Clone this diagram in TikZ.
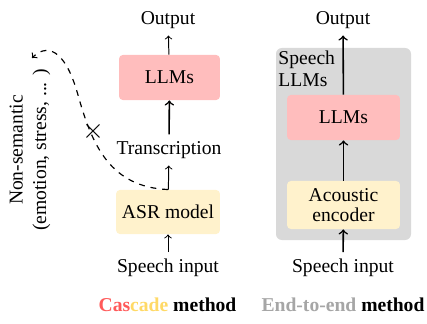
\documentclass[tikz,border=0pt]{standalone}
\usepackage{fontspec}
\setmainfont{Liberation Serif}[BoldFont={Liberation Serif Bold}]
\usetikzlibrary{arrows,positioning}
\definecolor{llmpink}{HTML}{FFBDBD}
\definecolor{asryellow}{HTML}{FFF2CC}
\definecolor{panelgray}{HTML}{D9D9D9}
\definecolor{casred}{HTML}{FF5A5A}
\definecolor{casyellow}{HTML}{FFD966}
\definecolor{etegray}{HTML}{A6A6A6}
\tikzset{font=\fontsize{10}{12}\selectfont}
\tikzset{block/.style={rounded corners=2pt, align=center, inner sep=0pt},
  llmbox/.style={block, fill=llmpink},
  encbox/.style={block, fill=asryellow},
  flow/.style={->, line width=0.5pt},
  mainflow/.style={->, line width=0.8pt}}

\begin{document}
\begin{tikzpicture}[x=0.51pt, y=-0.51pt]
  \useasboundingbox (0,0) rectangle (427,323);
% cascade method
  \node (out1) at (168,20) {Output};
  \node[llmbox, minimum width=51.5pt, minimum height=23pt] (llm1) at (169.5,77.5) {LLMs};
  \node (trans) at (169,150) {Transcription};
  \node[encbox, minimum width=53pt, minimum height=22.5pt] (asr) at (168,212) {ASR model};
  \node (in1) at (168,268) {Speech input};
  \draw[flow] (in1) -- (asr);
  \draw[flow] (asr) -- (trans);
  \draw[mainflow] (trans) -- (llm1);
  \draw[flow] (llm1) -- (out1);
% lost information
  \coordinate (lost) at (32,58);
  \draw[->, dashed, line width=0.6pt] (asr.north) .. controls (110,187) and (92,145) ..
    (78,95) .. controls (64,45) and (45,45) .. (lost);
  \node[inner sep=0pt, font=\Large] (cut) at (93,131) {$\times$};
  \node[rotate=90, align=center] (nonsem) at (30,150)
    {Non-semantic\\(emotion, stress, ... )};
% end-to-end method
  \fill[panelgray, rounded corners=3pt] (276,48) rectangle (411,240);
  \node[anchor=north west, align=left, inner sep=0pt,
    font=\fontsize{10}{11.2}\selectfont] (slm) at (278,51) {Speech\\LLMs};
  \node (out2) at (343,20) {Output};
  \node[llmbox, minimum width=57.6pt, minimum height=23pt] (llm2) at (343.5,117.5) {LLMs};
  \node[encbox, minimum width=57.6pt, minimum height=24.5pt,
    font=\fontsize{10}{10.5}\selectfont] (enc) at (343.5,205) {Acoustic\\encoder};
  \node (in2) at (343,268) {Speech input};
  \draw[mainflow] (in2) -- (enc);
  \draw[mainflow] (enc) -- (llm2);
  \draw[mainflow] (llm2) -- (out2);
% captions
  \node (cascap) at (167.5,305)
    {\textbf{\textcolor{casred}{Cas}\textcolor{casyellow}{cade} method}};
  \node (etecap) at (343,305)
    {\textbf{\textcolor{etegray}{End-to-end} method}};
\end{tikzpicture}
\end{document}
